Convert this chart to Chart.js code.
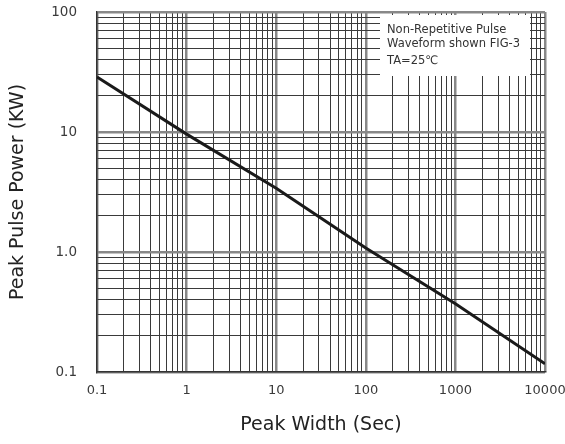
<!DOCTYPE html>
<html>
<head>
<meta charset="utf-8">
<script src="https://cdn.jsdelivr.net/npm/chart.js@4/dist/chart.umd.min.js"></script>
<style>
html,body{margin:0;padding:0;background:#fff;}
#wrap{width:565px;height:444px;position:relative;}
</style>
</head>
<body>
<div id="wrap"><canvas id="c" width="565" height="444"></canvas></div>
<script>
const peakWidth = [0.1, 1, 10, 100, 1000, 10000];
const peakPower = [28.7, 9.6, 3.4, 1.08, 0.37, 0.117];
const xTickLabels = ['0.1', '1', '10', '100', '1000', '10000'];
const yTickLabels = ['0.1', '1.0', '10', '100'];
const noteLines = ['Non-Repetitive Pulse', 'Waveform shown FIG-3', 'TA=25℃'];

const FONT = '"DejaVu Sans", "Liberation Sans", Arial, sans-serif';

function isMajor(v){ const l = Math.log10(v); return Math.abs(l - Math.round(l)) < 1e-9; }
function decadeIndex(v){ return Math.round(Math.log10(v)) + 1; }

function noPad(s){ s.paddingTop = 0; s.paddingBottom = 0; s.paddingLeft = 0; s.paddingRight = 0; }

const notePlugin = {
  id: 'note',
  afterDraw(chart){
    const ctx = chart.ctx;
    const a = chart.chartArea;
    ctx.save();
    ctx.fillStyle = '#fff';
    ctx.fillRect(380, a.top + 3, 150, 61);
    ctx.fillStyle = '#333';
    ctx.font = '11.5px ' + FONT;
    ctx.textBaseline = 'middle';
    ctx.fillText(noteLines[0], 387, 30);
    ctx.fillText(noteLines[1], 387, 44);
    ctx.fillText(noteLines[2], 387, 61);
    ctx.restore();
  }
};

new Chart(document.getElementById('c'), {
  type: 'line',
  data: {
    datasets: [{
      data: peakWidth.map((x,i)=>({x:x, y:peakPower[i]})),
      borderColor: '#1a1a1a',
      borderWidth: 3,
      pointRadius: 0,
      fill: false,
      tension: 0
    }]
  },
  options: {
    responsive: false,
    animation: false,
    layout: { padding: { top: 12, right: 20, left: 0, bottom: 0 } },
    plugins: { legend: { display: false }, tooltip: { enabled: false } },
    scales: {
      x: {
        type: 'logarithmic',
        min: 0.1, max: 10000,
        afterFit(s){ s.height = 72; noPad(s); },
        afterBuildTicks(s){
          const t=[];
          for (let e=-1;e<=3;e++) for (let m=1;m<=9;m++) t.push({value:m*Math.pow(10,e)});
          t.push({value:10000});
          s.ticks=t;
        },
        border: { color: '#333', width: 1.5 },
        grid: {
          drawTicks: false,
          color: c => isMajor(c.tick.value) ? '#888' : '#3a3a3a',
          lineWidth: c => isMajor(c.tick.value) ? 2.5 : 1
        },
        ticks: {
          autoSkip: false, maxRotation: 0, padding: 11,
          color: '#3a3a3a',
          font: { family: FONT, size: 13 },
          callback: v => (isMajor(v) ? xTickLabels[decadeIndex(v)] : '')
        },
        title: {
          display: true, text: 'Peak Width (Sec)', color: '#222',
          font: { family: FONT, size: 19 },
          padding: { top: 0, bottom: 8 }
        }
      },
      y: {
        type: 'logarithmic',
        min: 0.1, max: 100,
        afterFit(s){ s.width = 97; noPad(s); },
        afterBuildTicks(s){
          const t=[];
          for (let e=-1;e<=1;e++) for (let m=1;m<=9;m++) t.push({value:m*Math.pow(10,e)});
          t.push({value:100});
          s.ticks=t;
        },
        border: { color: '#333', width: 1.5 },
        grid: {
          drawTicks: false,
          color: c => isMajor(c.tick.value) ? '#888' : '#3a3a3a',
          lineWidth: c => isMajor(c.tick.value) ? 2.5 : 1
        },
        ticks: {
          autoSkip: false, padding: 20,
          color: '#3a3a3a',
          font: { family: FONT, size: 13.5 },
          callback: v => (isMajor(v) ? yTickLabels[decadeIndex(v)] : '')
        },
        title: {
          display: true, text: 'Peak Pulse Power (KW)', color: '#222',
          font: { family: FONT, size: 19 },
          padding: { top: 7, bottom: 0 }
        }
      }
    }
  },
  plugins: [notePlugin]
});
</script>
</body>
</html>
